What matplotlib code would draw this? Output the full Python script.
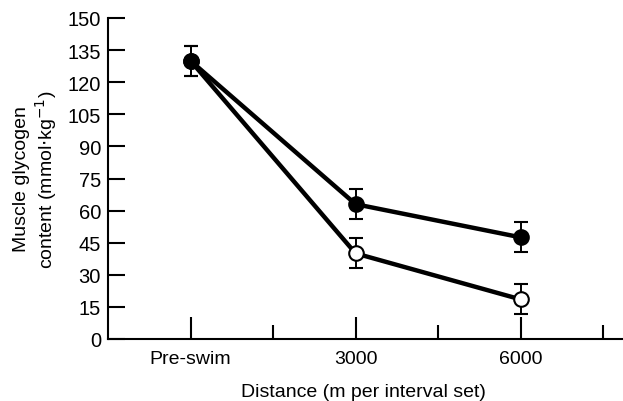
import matplotlib
matplotlib.use("Agg")
import matplotlib.pyplot as plt
from matplotlib.ticker import MultipleLocator

plt.rcParams["font.family"] = ["Liberation Sans", "DejaVu Sans"]

# data
categories = ["Pre-swim", "3000", "6000"]
filled_vals = [130, 63, 47.5]
filled_err = [7, 7, 7]
open_vals = [130, 40, 18.5]
open_err = [7, 7, 7]

x = list(range(len(categories)))

fig = plt.figure(figsize=(6.23, 4.02), dpi=100)
ax = fig.add_axes([108 / 623, 62 / 402, 515 / 623, 321 / 402])

common = dict(color="black", lw=3.2, ecolor="black", elinewidth=1.4,
              capsize=4.7, capthick=1.4, markersize=10.5, markeredgewidth=1.5)
ax.errorbar(x, open_vals, yerr=open_err, fmt="-o", markerfacecolor="white",
            markeredgecolor="black", zorder=2, **common)
ax.errorbar(x, filled_vals, yerr=filled_err, fmt="-o", markerfacecolor="black",
            markeredgecolor="black", zorder=3, **common)

ax.set_xlim(-0.5, 2.62)
ax.set_ylim(0, 150)
ax.set_xticks(x)
ax.set_xticklabels(categories)
ax.set_xticks([0.5, 1.5, 2.5], minor=True)
ax.yaxis.set_major_locator(MultipleLocator(15))

for side in ("top", "right"):
    ax.spines[side].set_visible(False)
for side in ("left", "bottom"):
    ax.spines[side].set_linewidth(1.5)

ax.tick_params(axis="y", direction="in", length=12, width=1.5, labelsize=14.5, pad=5)
ax.tick_params(axis="x", which="major", direction="in", length=16, width=1.5,
               labelsize=14, pad=8)
ax.tick_params(axis="x", which="minor", direction="in", length=10, width=1.5)

# x label sits right at the bottom edge in the original
fig.text(363 / 623, 5 / 402, "Distance (m per interval set)", fontsize=14,
         ha="center", va="baseline")
ax.set_ylabel("Muscle glycogen\ncontent (mmol$\\cdot$kg$^{-1}$)", fontsize=14,
              labelpad=6, linespacing=1.15)

fig.savefig("out.png", dpi=100)
